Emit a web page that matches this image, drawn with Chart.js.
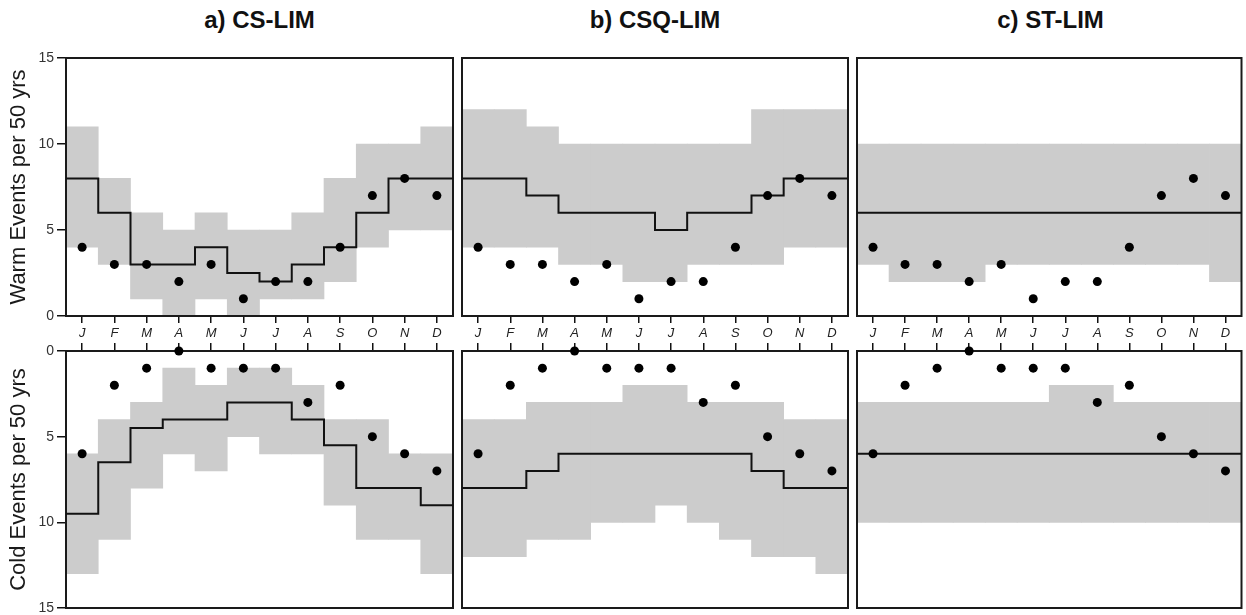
<!DOCTYPE html>
<html>
<head>
<meta charset="utf-8">
<script src="https://cdn.jsdelivr.net/npm/chart.js@4.4.0/dist/chart.umd.min.js"></script>
<style>
    body { margin: 0; background: #fff; width: 1246px; height: 615px; position: relative; overflow: hidden; font-family: "Liberation Sans", Arial, sans-serif; }
    .panel { position: absolute; }
    .ttl { position: absolute; top: 8px; font-weight: bold; font-size: 24px; line-height: 24px; text-align: center; color: #111; }
</style>
</head>
<body>
<div class="ttl" style="left:66px;width:387px;">a) CS-LIM</div>
<div class="ttl" style="left:462px;width:386px;">b) CSQ-LIM</div>
<div class="ttl" style="left:857px;width:387px;">c) ST-LIM</div>

<canvas id="warm-cs" class="panel" width="460" height="306" style="left:0px;top:40px;"></canvas>
<canvas id="warm-csq" class="panel" width="400" height="306" style="left:455px;top:40px;"></canvas>
<canvas id="warm-st" class="panel" width="396" height="306" style="left:850px;top:40px;"></canvas>
<canvas id="cold-cs" class="panel" width="460" height="273" style="left:0px;top:343px;"></canvas>
<canvas id="cold-csq" class="panel" width="400" height="273" style="left:455px;top:343px;"></canvas>
<canvas id="cold-st" class="panel" width="396" height="273" style="left:850px;top:343px;"></canvas>

<script>
var months = ["J", "F", "M", "A", "M", "J", "J", "A", "S", "O", "N", "D"];
var yTicks = [0, 5, 10, 15];

// observed counts (same in every column)
var warmObs = [4, 3, 3, 2, 3, 1, 2, 2, 4, 7, 8, 7];
var coldObs = [6, 2, 1, 0, 1, 1, 1, 3, 2, 5, 6, 7];

// a) CS-LIM
var csWarmMean = [8, 6, 3, 3, 4, 2.5, 2, 3, 4, 6, 8, 8];
var csWarmLow = [4, 3, 1, 0, 1, 0, 1, 1, 2, 4, 5, 5];
var csWarmHigh = [11, 8, 6, 5, 6, 5, 5, 6, 8, 10, 10, 11];
var csColdMean = [9.5, 6.5, 4.5, 4, 4, 3, 3, 4, 5.5, 8, 8, 9];
var csColdLow = [6, 4, 3, 1, 2, 1, 1, 2, 4, 4, 6, 6];
var csColdHigh = [13, 11, 8, 6, 7, 5, 6, 6, 9, 11, 11, 13];

// b) CSQ-LIM
var csqWarmMean = [8, 8, 7, 6, 6, 6, 5, 6, 6, 7, 8, 8];
var csqWarmLow = [4, 4, 4, 3, 3, 2, 2, 3, 3, 3, 4, 4];
var csqWarmHigh = [12, 12, 11, 10, 10, 10, 10, 10, 10, 12, 12, 12];
var csqColdMean = [8, 8, 7, 6, 6, 6, 6, 6, 6, 7, 8, 8];
var csqColdLow = [4, 4, 3, 3, 3, 2, 2, 3, 3, 3, 4, 4];
var csqColdHigh = [12, 12, 11, 11, 10, 10, 9, 10, 11, 12, 12, 13];

// c) ST-LIM
var stWarmMean = [6, 6, 6, 6, 6, 6, 6, 6, 6, 6, 6, 6];
var stWarmLow = [3, 2, 2, 2, 3, 3, 3, 3, 3, 3, 3, 2];
var stWarmHigh = [10, 10, 10, 10, 10, 10, 10, 10, 10, 10, 10, 10];
var stColdMean = [6, 6, 6, 6, 6, 6, 6, 6, 6, 6, 6, 6];
var stColdLow = [3, 3, 3, 3, 3, 3, 2, 2, 3, 3, 3, 3];
var stColdHigh = [10, 10, 10, 10, 10, 10, 10, 10, 10, 10, 10, 10];

var FONT = "'Liberation Sans', Arial, sans-serif";

// draw the black box right after the grey bands, so line and dots sit on top
var framePlugin = {
    id: 'frame',
    afterDatasetDraw: function (chart, args) {
        if (args.index !== 0) return;
        var a = chart.chartArea;
        var c = chart.ctx;
        c.save();
        c.strokeStyle = '#1a1a1a';
        c.lineWidth = 2;
        c.strokeRect(a.left, a.top, a.right - a.left, a.bottom - a.top);
        c.restore();
    }
};

// each month value held across its whole cell
function stepPoints(vals) {
    var pts = [];
    vals.forEach(function (v, i) {
        pts.push({ x: i, y: v });
        pts.push({ x: i + 1, y: v });
    });
    return pts;
}

function makePanel(id, opts) {
    var bands = opts.low.map(function (lo, i) { return [lo, opts.high[i]]; });
    var warm = opts.row === 'warm';

    var xAxis = {
        type: 'category',
        position: warm ? 'bottom' : 'top',
        offset: true,
        grid: { offset: false, drawOnChartArea: false, drawTicks: true, tickLength: warm ? 7 : 8, color: '#111', lineWidth: 1.5 },
        border: { display: false },
        ticks: {
            display: warm,
            padding: 3,
            color: '#222',
            font: { family: FONT, size: 13, style: 'italic' }
        },
        afterFit: function (s) { s.height = warm ? 30 : 8; }
    };

    var yAxis = {
        type: 'linear',
        min: 0,
        max: 15,
        reverse: !warm,
        display: opts.showY,
        afterBuildTicks: function (s) { s.ticks = yTicks.map(function (v) { return { value: v }; }); },
        grid: { drawOnChartArea: false, tickLength: 9, color: '#111', lineWidth: 1.5 },
        border: { display: false },
        ticks: { padding: 3, color: '#333', font: { family: FONT, size: 14 } },
        title: {
            display: true,
            text: warm ? 'Warm Events per 50 yrs' : 'Cold Events per 50 yrs',
            color: '#1a1a1a',
            font: { family: FONT, size: 22 },
            padding: { top: 6, bottom: 0 }
        },
        afterFit: function (s) {
            if (!opts.showY) return;
            s.width = 66;
            s.paddingTop = 0;
            s.paddingBottom = 0;
        }
    };

    return new Chart(document.getElementById(id), {
        type: 'bar',
        data: {
            labels: months,
            datasets: [
                {
                    type: 'bar',
                    xAxisID: 'x',
                    data: bands,
                    backgroundColor: '#cccccc',
                    borderWidth: 0,
                    borderSkipped: false,
                    grouped: false,
                    barPercentage: 1,
                    categoryPercentage: 1,
                    order: 3
                },
                {
                    type: 'line',
                    xAxisID: 'xs',
                    data: stepPoints(opts.mean),
                    borderColor: '#111',
                    borderWidth: 2,
                    pointRadius: 0,
                    fill: false,
                    tension: 0,
                    order: 2
                },
                {
                    type: 'line',
                    xAxisID: 'x',
                    data: opts.obs,
                    showLine: false,
                    pointRadius: 4.5,
                    pointBackgroundColor: '#000',
                    pointBorderWidth: 0,
                    clip: false,
                    order: 1
                }
            ]
        },
        options: {
            responsive: false,
            animation: false,
            layout: { padding: opts.pad },
            plugins: { legend: { display: false }, tooltip: { enabled: false }, title: { display: false } },
            scales: {
                x: xAxis,
                xs: { type: 'linear', min: 0, max: 12, offset: false, grid: { offset: false }, display: false },
                y: yAxis
            }
        },
        plugins: [framePlugin]
    });
}

makePanel('warm-cs', { row: 'warm', showY: true, mean: csWarmMean, low: csWarmLow, high: csWarmHigh, obs: warmObs, pad: { top: 18, right: 7, left: 0, bottom: 0 } });
makePanel('warm-csq', { row: 'warm', showY: false, mean: csqWarmMean, low: csqWarmLow, high: csqWarmHigh, obs: warmObs, pad: { top: 18, right: 7, left: 7, bottom: 0 } });
makePanel('warm-st', { row: 'warm', showY: false, mean: stWarmMean, low: stWarmLow, high: stWarmHigh, obs: warmObs, pad: { top: 18, right: 2, left: 7, bottom: 0 } });
makePanel('cold-cs', { row: 'cold', showY: true, mean: csColdMean, low: csColdLow, high: csColdHigh, obs: coldObs, pad: { top: 0, right: 7, left: 0, bottom: 8 } });
makePanel('cold-csq', { row: 'cold', showY: false, mean: csqColdMean, low: csqColdLow, high: csqColdHigh, obs: coldObs, pad: { top: 0, right: 7, left: 7, bottom: 8 } });
makePanel('cold-st', { row: 'cold', showY: false, mean: stColdMean, low: stColdLow, high: stColdHigh, obs: coldObs, pad: { top: 0, right: 2, left: 7, bottom: 8 } });
</script>
</body>
</html>
